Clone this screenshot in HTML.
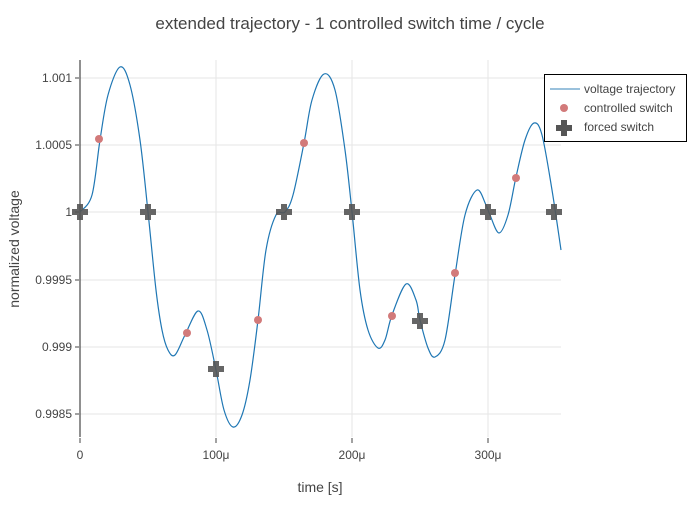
<!DOCTYPE html>
<html><head><style>body{margin:0;background:#fff}svg text{font-family:"Liberation Sans",sans-serif;fill:#444}</style></head>
<body>
<svg width="700" height="500" xmlns="http://www.w3.org/2000/svg">
<rect width="700" height="500" fill="#fff"/>
<text x="350" y="29" text-anchor="middle" font-size="17">extended trajectory - 1 controlled switch time / cycle</text>
<g stroke="#e6e6e6" stroke-width="1">
<line x1="80" x2="561" y1="78" y2="78"/><line x1="80" x2="561" y1="145" y2="145"/><line x1="80" x2="561" y1="212" y2="212"/><line x1="80" x2="561" y1="280" y2="280"/><line x1="80" x2="561" y1="347" y2="347"/><line x1="80" x2="561" y1="414" y2="414"/>
<line x1="216" x2="216" y1="60" y2="437"/><line x1="352" x2="352" y1="60" y2="437"/><line x1="488" x2="488" y1="60" y2="437"/>
</g>
<line x1="80" x2="80" y1="60" y2="437" stroke="#222" stroke-width="1"/>
<g stroke="#444"><line x1="75" x2="79" y1="78" y2="78"/><line x1="75" x2="79" y1="145" y2="145"/><line x1="75" x2="79" y1="212" y2="212"/><line x1="75" x2="79" y1="280" y2="280"/><line x1="75" x2="79" y1="347" y2="347"/><line x1="75" x2="79" y1="414" y2="414"/>
<line x1="80" x2="80" y1="438" y2="443"/><line x1="216" x2="216" y1="438" y2="443"/><line x1="352" x2="352" y1="438" y2="443"/><line x1="488" x2="488" y1="438" y2="443"/></g>
<g font-size="12" text-anchor="end"><text x="72" y="82">1.001</text><text x="72" y="149">1.0005</text><text x="72" y="216">1</text><text x="72" y="284">0.9995</text><text x="72" y="351">0.999</text><text x="72" y="418">0.9985</text></g>
<g font-size="12" text-anchor="middle"><text x="80" y="459">0</text><text x="216" y="459">100μ</text><text x="352" y="459">200μ</text><text x="488" y="459">300μ</text></g>
<text x="320" y="492" text-anchor="middle" font-size="14">time [s]</text>
<text transform="translate(19,249) rotate(-90)" text-anchor="middle" font-size="14">normalized voltage</text>
<path id="curve" fill="none" stroke="#1f77b4" stroke-width="1.2"/>
<g fill="#d27a7a"><circle cx="99" cy="139" r="4"/><circle cx="187" cy="333" r="4"/><circle cx="258" cy="320" r="4"/><circle cx="304" cy="143" r="4"/><circle cx="392" cy="316" r="4"/><circle cx="455" cy="273" r="4"/><circle cx="516" cy="178" r="4"/></g>
<g id="crosses" fill="#555" opacity="0.9"></g>
<rect x="544.5" y="74.5" width="142" height="67" fill="#fff" stroke="#000"/>
<line x1="550" x2="580" y1="89" y2="89" stroke="#1f77b4" stroke-width="1.5" opacity="0.6"/>
<circle cx="564" cy="108" r="4" fill="#d27a7a"/>
<path d="M561,120h6v5h5v6h-5v5h-6v-5h-5v-6h5z" fill="#555"/>
<g font-size="12"><text x="584" y="93">voltage trajectory</text><text x="584" y="112">controlled switch</text><text x="584" y="131">forced switch</text></g>
</svg>
<script>
var p=[[80,212],[92,195],[100,140],[108,95],[120,67],[130,85],[140,140],[148,212],[156,290],[162,330],[168,350],[175,355],[185,335],[198,311],[207,330],[216,370],[224,410],[233,427],[242,415],[250,380],[258,320],[266,250],[276,215],[285,212],[293,195],[304,143],[312,100],[324,74],[335,90],[345,150],[352,212],[360,290],[368,330],[378,348],[385,340],[392,315],[406,284],[416,300],[420,320],[428,348],[435,357],[445,340],[455,275],[465,215],[477,190],[486,205],[490,215],[499,233],[508,215],[516,177],[525,140],[534,123],[542,135],[552,190],[561,250]];
var d="M"+p[0];for(var i=0;i<p.length-1;i++){var a=p[Math.max(i-1,0)],b=p[i],c=p[i+1],e=p[Math.min(i+2,p.length-1)];
d+=" C"+(b[0]+(c[0]-a[0])/6)+","+(b[1]+(c[1]-a[1])/6)+" "+(c[0]-(e[0]-b[0])/6)+","+(c[1]-(e[1]-b[1])/6)+" "+c;}
document.getElementById("curve").setAttribute("d",d);
var cr=[[80,212],[148,212],[216,369],[284,212],[352,212],[420,321],[488,212],[554,212]],g=document.getElementById("crosses"),s="";
cr.forEach(function(q){var x=q[0],y=q[1];s+='<path d="M'+(x-3)+','+(y-8)+'h6v5h5v6h-5v5h-6v-5h-5v-6h5z"/>';});g.innerHTML=s;
</script>
</body></html>
